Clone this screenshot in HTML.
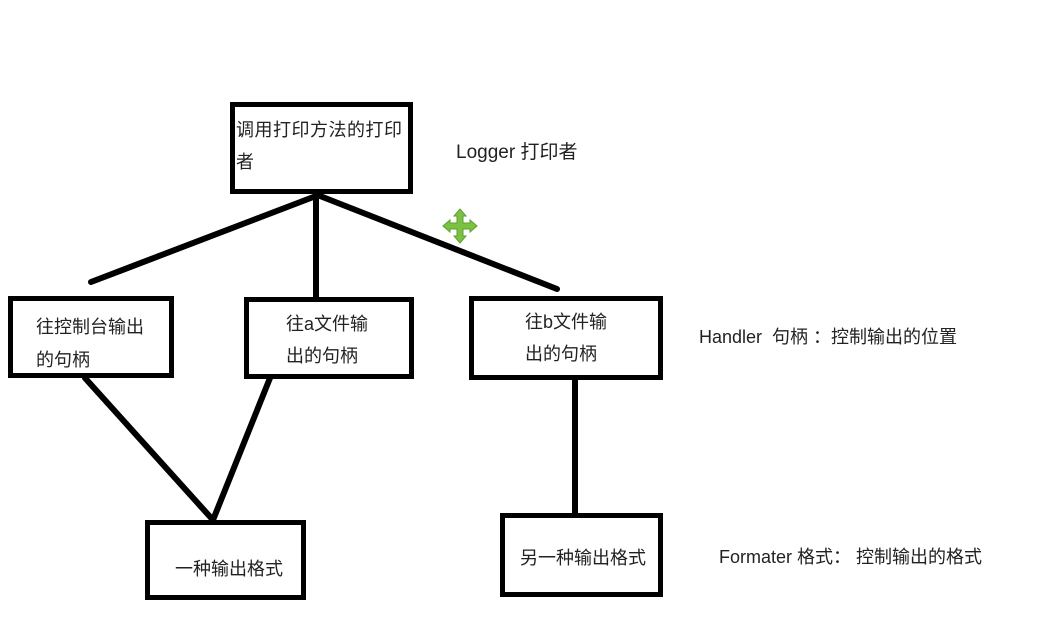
<!DOCTYPE html>
<html><head><meta charset="utf-8"><style>
body{margin:0;width:1047px;height:624px;background:#fff;position:relative;overflow:hidden;font-family:"Liberation Sans","Noto Sans CJK SC",sans-serif;color:#222;}
.b{position:absolute;border:5px solid #000;box-sizing:border-box;}
.t{position:absolute;font-size:18px;line-height:22px;white-space:nowrap;}
</style></head><body>
<svg width="1047" height="624" style="position:absolute;left:0;top:0">
<g stroke="#000" stroke-width="6" stroke-linecap="round">
<line x1="316" y1="196" x2="91" y2="282"/>
<line x1="316" y1="196" x2="316" y2="298"/>
<line x1="320" y1="196" x2="557" y2="289"/>
<line x1="85" y1="378" x2="213" y2="520"/>
<line x1="270" y1="378" x2="213" y2="520"/>
<line x1="575" y1="380" x2="575" y2="514"/>
</g>
<g fill="#7cc242" stroke="#5aa02c" stroke-width="1">
<path d="M460 209 l6 7 h-3 v7 h7 v-3 l7 6 -7 6 v-3 h-7 v7 h3 l-6 7 -6 -7 h3 v-7 h-7 v3 l-7 -6 7 -6 v3 h7 v-7 h-3 z"/>
</g>
</svg>
<div class="b" style="left:230px;top:102px;width:183px;height:92px"></div>
<div class="b" style="left:8px;top:296px;width:166px;height:82px"></div>
<div class="b" style="left:244px;top:297px;width:170px;height:82px"></div>
<div class="b" style="left:469px;top:296px;width:194px;height:84px"></div>
<div class="b" style="left:145px;top:520px;width:161px;height:80px"></div>
<div class="b" style="left:500px;top:513px;width:163px;height:84px"></div>
<div class="t" style="left:236px;top:119px;letter-spacing:0.5px">调用打印方法的打印</div>
<div class="t" style="left:236px;top:151px">者</div>
<div class="t" style="left:36px;top:316px">往控制台输出</div>
<div class="t" style="left:36px;top:349px">的句柄</div>
<div class="t" style="left:286px;top:313px">往a文件输</div>
<div class="t" style="left:286px;top:345px">出的句柄</div>
<div class="t" style="left:525px;top:311px">往b文件输</div>
<div class="t" style="left:525px;top:343px">出的句柄</div>
<div class="t" style="left:175px;top:558px">一种输出格式</div>
<div class="t" style="left:520px;top:547px">另一种输出格式</div>
<div class="t" style="left:456px;top:142px;font-size:19px">Logger 打印者</div>
<div class="t" style="left:699px;top:326px">Handler &nbsp;句柄 ：控制输出的位置</div>
<div class="t" style="left:719px;top:546px">Formater 格式： 控制输出的格式</div>
</body></html>
